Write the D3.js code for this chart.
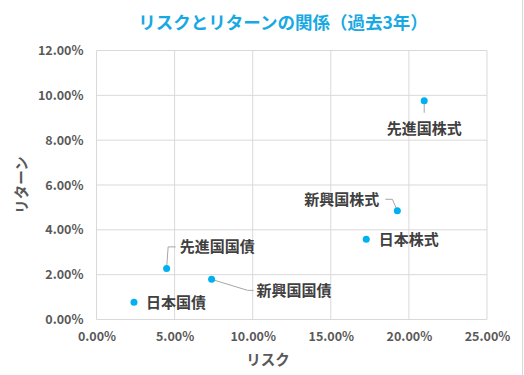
<!DOCTYPE html>
<html>
<head>
<meta charset="utf-8">
<script src="https://cdn.jsdelivr.net/npm/d3@7"></script>
<style>
  html, body { margin: 0; padding: 0; background: #fff; }
  svg { display: block; }
</style>
</head>
<body>
<svg width="524" height="375"></svg>
<script>
// data (percent)
const names = ["日本国債", "先進国国債", "新興国国債", "日本株式", "新興国株式", "先進国株式"];
const risk = [2.40, 4.49, 7.37, 17.27, 19.26, 20.98];
const ret = [0.77, 2.28, 1.79, 3.58, 4.85, 9.76];
const xTicks = [0, 5, 10, 15, 20, 25];
const yTicks = [0, 2, 4, 6, 8, 10, 12];

const width = 524,
  height = 375;
const margin = { top: 50.5, right: 37, bottom: 55.5, left: 96.5 };
const plotW = width - margin.left - margin.right,
  plotH = height - margin.top - margin.bottom;

const font = "'Noto Sans CJK JP', 'Noto Sans', sans-serif";
const textGray = "#595959";

const svg = d3.select("svg").attr("font-family", font);

// chart border on the right edge
svg
  .append("line")
  .attr("x1", width - 1.5)
  .attr("x2", width - 1.5)
  .attr("y1", 0)
  .attr("y2", height)
  .attr("stroke", "#d9d9d9");

// title
svg
  .append("text")
  .attr("x", 283)
  .attr("y", 29)
  .attr("text-anchor", "middle")
  .attr("font-size", 17.5)
  .attr("font-weight", "bold")
  .attr("fill", "#16a9e4")
  .text("リスクとリターンの関係（過去3年）");

const x = d3.scaleLinear().domain([0, 25]).range([0, plotW]);
const y = d3.scaleLinear().domain([0, 12]).range([plotH, 0]);

const g = svg
  .append("g")
  .attr("transform", `translate(${margin.left}, ${margin.top})`);

// gridlines
g.append("g")
  .selectAll("line")
  .data(xTicks)
  .join("line")
  .attr("x1", (d) => x(d))
  .attr("x2", (d) => x(d))
  .attr("y1", 0)
  .attr("y2", plotH)
  .attr("stroke", "#d9d9d9");

g.append("g")
  .selectAll("line")
  .data(yTicks)
  .join("line")
  .attr("x1", 0)
  .attr("x2", plotW)
  .attr("y1", (d) => y(d))
  .attr("y2", (d) => y(d))
  .attr("stroke", "#d9d9d9");

// axes (labels only)
const xAxis = g
  .append("g")
  .attr("transform", `translate(0, ${plotH})`)
  .call(
    d3
      .axisBottom(x)
      .tickValues(xTicks)
      .tickSize(0)
      .tickPadding(13)
      .tickFormat((d) => d.toFixed(2) + "%")
  );
xAxis.select(".domain").remove();

const yAxis = g.append("g").call(
  d3
    .axisLeft(y)
    .tickValues(yTicks)
    .tickSize(0)
    .tickPadding(13)
    .tickFormat((d) => d.toFixed(2) + "%")
);
yAxis.select(".domain").remove();

g.selectAll(".tick text")
  .attr("font-family", font)
  .attr("font-size", 12.5)
  .attr("font-weight", "bold")
  .attr("fill", textGray);

// axis titles
svg
  .append("text")
  .attr("x", 268)
  .attr("y", 365)
  .attr("text-anchor", "middle")
  .attr("font-size", 14.5)
  .attr("font-weight", "bold")
  .attr("fill", textGray)
  .text("リスク");

svg
  .append("text")
  .attr("transform", "translate(27, 185) rotate(-90)")
  .attr("text-anchor", "middle")
  .attr("font-size", 14.5)
  .attr("font-weight", "bold")
  .attr("fill", textGray)
  .text("リターン");

// label placement relative to each point: [dx, dy, anchor], leader line points
const labelPos = [
  { dx: 12, dy: 0, anchor: "start", leader: null },
  { dx: 13, dy: -21.5, anchor: "start", leader: [[0, 0], [1.5, -21.5], [9, -21.5]] },
  { dx: 45, dy: 11, anchor: "start", leader: [[0, 0], [36, 11], [42, 11]] },
  { dx: 12.5, dy: 0, anchor: "start", leader: null },
  { dx: -18, dy: -11.5, anchor: "end", leader: [[0, 0], [-5, -11.5], [-12, -11.5]] },
  { dx: 0, dy: 27.5, anchor: "middle", leader: [[0, 0], [0, 12]] },
];

const data = names.map((n, i) => ({ name: n, risk: risk[i], ret: ret[i], pos: labelPos[i] }));

// leader lines
g.append("g")
  .selectAll("path")
  .data(data.filter((d) => d.pos.leader))
  .join("path")
  .attr("d", (d) =>
    d3.line()(d.pos.leader.map((p) => [x(d.risk) + p[0], y(d.ret) + p[1]]))
  )
  .attr("fill", "none")
  .attr("stroke", "#a6a6a6")
  .attr("stroke-width", 1);

// points
g.append("g")
  .selectAll("circle")
  .data(data)
  .join("circle")
  .attr("cx", (d) => x(d.risk))
  .attr("cy", (d) => y(d.ret))
  .attr("r", 3.5)
  .attr("fill", "#00b0f0");

// labels
g.append("g")
  .selectAll("text")
  .data(data)
  .join("text")
  .attr("x", (d) => x(d.risk) + d.pos.dx)
  .attr("y", (d) => y(d.ret) + d.pos.dy)
  .attr("dy", "0.36em")
  .attr("text-anchor", (d) => d.pos.anchor)
  .attr("font-size", 15)
  .attr("font-weight", "bold")
  .attr("fill", "#404040")
  .text((d) => d.name);
</script>
</body>
</html>
